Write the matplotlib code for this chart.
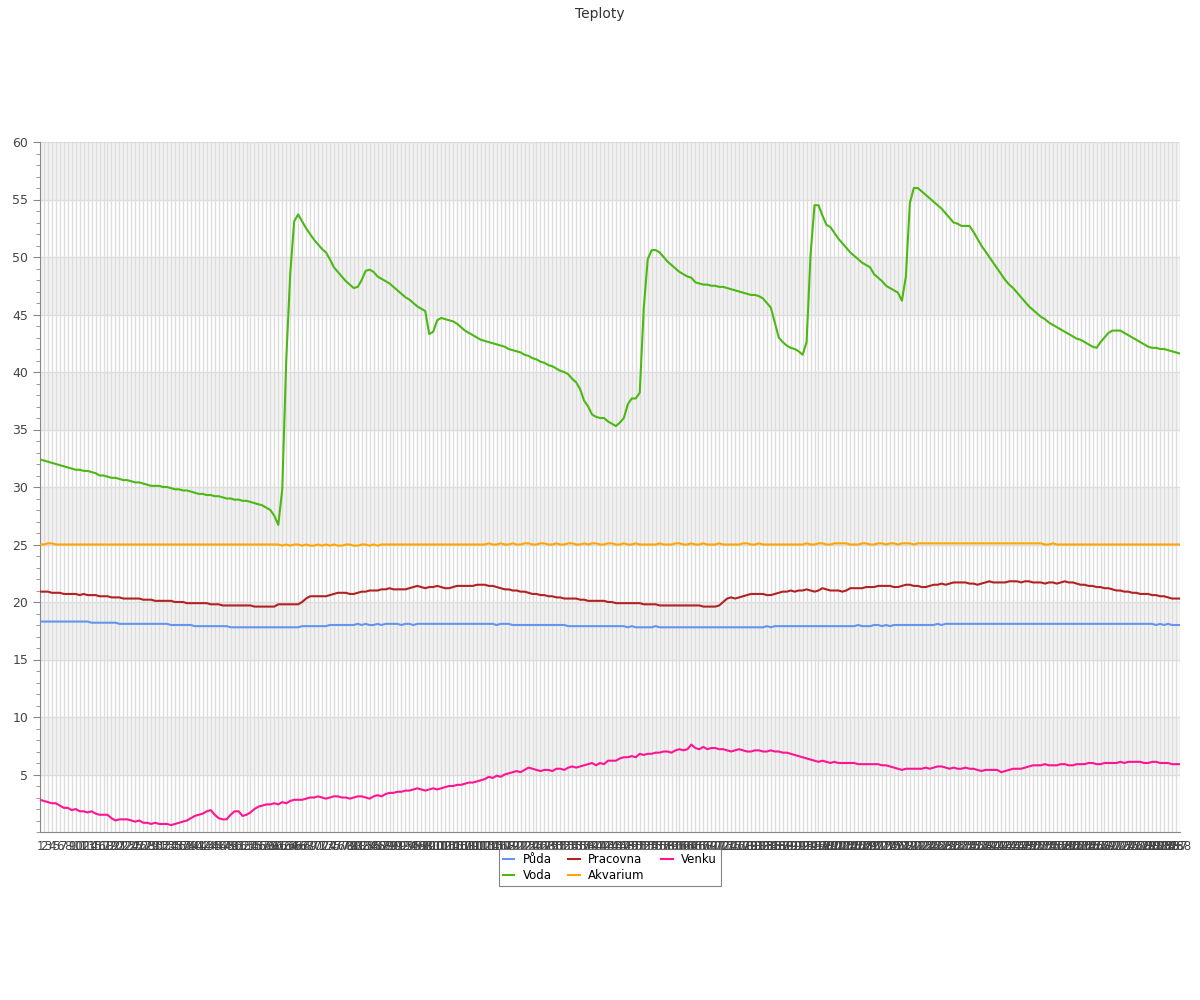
import numpy as np
import matplotlib
matplotlib.use('Agg')
import matplotlib.pyplot as plt
from matplotlib.ticker import MultipleLocator

# casove body (5 min), 1..288
labels = [str(i) for i in range(1, 289)]

puda = [
18.3, 18.3, 18.3, 18.3, 18.3, 18.3, 18.3, 18.3, 18.3, 18.3,
18.3, 18.3, 18.3, 18.2, 18.2, 18.2, 18.2, 18.2, 18.2, 18.2,
18.1, 18.1, 18.1, 18.1, 18.1, 18.1, 18.1, 18.1, 18.1, 18.1,
18.1, 18.1, 18.1, 18.0, 18.0, 18.0, 18.0, 18.0, 18.0, 17.9,
17.9, 17.9, 17.9, 17.9, 17.9, 17.9, 17.9, 17.9, 17.8, 17.8,
17.8, 17.8, 17.8, 17.8, 17.8, 17.8, 17.8, 17.8, 17.8, 17.8,
17.8, 17.8, 17.8, 17.8, 17.8, 17.8, 17.9, 17.9, 17.9, 17.9,
17.9, 17.9, 17.9, 18.0, 18.0, 18.0, 18.0, 18.0, 18.0, 18.0,
18.1, 18.0, 18.1, 18.0, 18.0, 18.1, 18.0, 18.1, 18.1, 18.1,
18.1, 18.0, 18.1, 18.1, 18.0, 18.1, 18.1, 18.1, 18.1, 18.1,
18.1, 18.1, 18.1, 18.1, 18.1, 18.1, 18.1, 18.1, 18.1, 18.1,
18.1, 18.1, 18.1, 18.1, 18.1, 18.0, 18.1, 18.1, 18.1, 18.0,
18.0, 18.0, 18.0, 18.0, 18.0, 18.0, 18.0, 18.0, 18.0, 18.0,
18.0, 18.0, 18.0, 17.9, 17.9, 17.9, 17.9, 17.9, 17.9, 17.9,
17.9, 17.9, 17.9, 17.9, 17.9, 17.9, 17.9, 17.9, 17.8, 17.9,
17.8, 17.8, 17.8, 17.8, 17.8, 17.9, 17.8, 17.8, 17.8, 17.8,
17.8, 17.8, 17.8, 17.8, 17.8, 17.8, 17.8, 17.8, 17.8, 17.8,
17.8, 17.8, 17.8, 17.8, 17.8, 17.8, 17.8, 17.8, 17.8, 17.8,
17.8, 17.8, 17.8, 17.9, 17.8, 17.9, 17.9, 17.9, 17.9, 17.9,
17.9, 17.9, 17.9, 17.9, 17.9, 17.9, 17.9, 17.9, 17.9, 17.9,
17.9, 17.9, 17.9, 17.9, 17.9, 17.9, 18.0, 17.9, 17.9, 17.9,
18.0, 18.0, 17.9, 18.0, 17.9, 18.0, 18.0, 18.0, 18.0, 18.0,
18.0, 18.0, 18.0, 18.0, 18.0, 18.0, 18.1, 18.0, 18.1, 18.1,
18.1, 18.1, 18.1, 18.1, 18.1, 18.1, 18.1, 18.1, 18.1, 18.1,
18.1, 18.1, 18.1, 18.1, 18.1, 18.1, 18.1, 18.1, 18.1, 18.1,
18.1, 18.1, 18.1, 18.1, 18.1, 18.1, 18.1, 18.1, 18.1, 18.1,
18.1, 18.1, 18.1, 18.1, 18.1, 18.1, 18.1, 18.1, 18.1, 18.1,
18.1, 18.1, 18.1, 18.1, 18.1, 18.1, 18.1, 18.1, 18.1, 18.1,
18.1, 18.0, 18.1, 18.0, 18.1, 18.0, 18.0, 18.0]

voda = [
32.4, 32.3, 32.2, 32.1, 32.0, 31.9, 31.8, 31.7, 31.6, 31.5,
31.5, 31.4, 31.4, 31.3, 31.2, 31.0, 31.0, 30.9, 30.8, 30.8,
30.7, 30.6, 30.6, 30.5, 30.4, 30.4, 30.3, 30.2, 30.1, 30.1,
30.1, 30.0, 30.0, 29.9, 29.8, 29.8, 29.7, 29.7, 29.6, 29.5,
29.4, 29.4, 29.3, 29.3, 29.2, 29.2, 29.1, 29.0, 29.0, 28.9,
28.9, 28.8, 28.8, 28.7, 28.6, 28.5, 28.4, 28.2, 28.0, 27.5,
26.7, 29.8, 41.0, 48.5, 53.1, 53.7, 53.1, 52.5, 52.0, 51.5,
51.1, 50.7, 50.4, 49.8, 49.1, 48.7, 48.3, 47.9, 47.6, 47.3,
47.4, 48.0, 48.8, 48.9, 48.7, 48.3, 48.1, 47.9, 47.7, 47.4,
47.1, 46.8, 46.5, 46.3, 46.0, 45.7, 45.5, 45.3, 43.3, 43.5,
44.5, 44.7, 44.6, 44.5, 44.4, 44.2, 43.9, 43.6, 43.4, 43.2,
43.0, 42.8, 42.7, 42.6, 42.5, 42.4, 42.3, 42.2, 42.0, 41.9,
41.8, 41.7, 41.5, 41.4, 41.2, 41.1, 40.9, 40.8, 40.6, 40.5,
40.3, 40.1, 40.0, 39.8, 39.4, 39.1, 38.5, 37.5, 37.0, 36.3,
36.1, 36.0, 36.0, 35.7, 35.5, 35.3, 35.6, 36.0, 37.2, 37.7,
37.7, 38.2, 45.5, 49.8, 50.6, 50.6, 50.4, 50.0, 49.6, 49.3,
49.0, 48.7, 48.5, 48.3, 48.2, 47.8, 47.7, 47.6, 47.6, 47.5,
47.5, 47.4, 47.4, 47.3, 47.2, 47.1, 47.0, 46.9, 46.8, 46.7,
46.7, 46.6, 46.4, 46.0, 45.6, 44.3, 43.0, 42.6, 42.3, 42.1,
42.0, 41.8, 41.5, 42.6, 50.2, 54.5, 54.5, 53.6, 52.8, 52.6,
52.1, 51.6, 51.2, 50.8, 50.4, 50.1, 49.8, 49.5, 49.3, 49.1,
48.5, 48.2, 47.9, 47.5, 47.3, 47.1, 46.9, 46.2, 48.3, 54.7,
56.0, 56.0, 55.7, 55.4, 55.1, 54.8, 54.5, 54.2, 53.8, 53.4,
53.0, 52.9, 52.7, 52.7, 52.7, 52.2, 51.6, 51.0, 50.5, 50.0,
49.5, 49.0, 48.5, 48.0, 47.6, 47.3, 46.9, 46.5, 46.1, 45.7,
45.4, 45.1, 44.8, 44.6, 44.3, 44.1, 43.9, 43.7, 43.5, 43.3,
43.1, 42.9, 42.8, 42.6, 42.4, 42.2, 42.1, 42.6, 43.0, 43.4,
43.6, 43.6, 43.6, 43.4, 43.2, 43.0, 42.8, 42.6, 42.4, 42.2,
42.1, 42.1, 42.0, 42.0, 41.9, 41.8, 41.7, 41.6]

pracovna = [
20.9, 20.9, 20.9, 20.8, 20.8, 20.8, 20.7, 20.7, 20.7, 20.7,
20.6, 20.7, 20.6, 20.6, 20.6, 20.5, 20.5, 20.5, 20.4, 20.4,
20.4, 20.3, 20.3, 20.3, 20.3, 20.3, 20.2, 20.2, 20.2, 20.1,
20.1, 20.1, 20.1, 20.1, 20.0, 20.0, 20.0, 19.9, 19.9, 19.9,
19.9, 19.9, 19.9, 19.8, 19.8, 19.8, 19.7, 19.7, 19.7, 19.7,
19.7, 19.7, 19.7, 19.7, 19.6, 19.6, 19.6, 19.6, 19.6, 19.6,
19.8, 19.8, 19.8, 19.8, 19.8, 19.8, 20.0, 20.3, 20.5, 20.5,
20.5, 20.5, 20.5, 20.6, 20.7, 20.8, 20.8, 20.8, 20.7, 20.7,
20.8, 20.9, 20.9, 21.0, 21.0, 21.0, 21.1, 21.1, 21.2, 21.1,
21.1, 21.1, 21.1, 21.2, 21.3, 21.4, 21.3, 21.2, 21.3, 21.3,
21.4, 21.3, 21.2, 21.2, 21.3, 21.4, 21.4, 21.4, 21.4, 21.4,
21.5, 21.5, 21.5, 21.4, 21.4, 21.3, 21.2, 21.1, 21.1, 21.0,
21.0, 20.9, 20.9, 20.8, 20.7, 20.7, 20.6, 20.6, 20.5, 20.5,
20.4, 20.4, 20.3, 20.3, 20.3, 20.3, 20.2, 20.2, 20.1, 20.1,
20.1, 20.1, 20.1, 20.0, 20.0, 19.9, 19.9, 19.9, 19.9, 19.9,
19.9, 19.9, 19.8, 19.8, 19.8, 19.8, 19.7, 19.7, 19.7, 19.7,
19.7, 19.7, 19.7, 19.7, 19.7, 19.7, 19.7, 19.6, 19.6, 19.6,
19.6, 19.7, 20.0, 20.3, 20.4, 20.3, 20.4, 20.5, 20.6, 20.7,
20.7, 20.7, 20.7, 20.6, 20.6, 20.7, 20.8, 20.9, 20.9, 21.0,
20.9, 21.0, 21.0, 21.1, 21.0, 20.9, 21.0, 21.2, 21.1, 21.0,
21.0, 21.0, 20.9, 21.0, 21.2, 21.2, 21.2, 21.2, 21.3, 21.3,
21.3, 21.4, 21.4, 21.4, 21.4, 21.3, 21.3, 21.4, 21.5, 21.5,
21.4, 21.4, 21.3, 21.3, 21.4, 21.5, 21.5, 21.6, 21.5, 21.6,
21.7, 21.7, 21.7, 21.7, 21.6, 21.6, 21.5, 21.6, 21.7, 21.8,
21.7, 21.7, 21.7, 21.7, 21.8, 21.8, 21.8, 21.7, 21.8, 21.8,
21.7, 21.7, 21.7, 21.6, 21.7, 21.7, 21.6, 21.7, 21.8, 21.7,
21.7, 21.6, 21.5, 21.5, 21.4, 21.4, 21.3, 21.3, 21.2, 21.2,
21.1, 21.0, 21.0, 20.9, 20.9, 20.8, 20.8, 20.7, 20.7, 20.7,
20.6, 20.6, 20.5, 20.5, 20.4, 20.3, 20.3, 20.3]

akvarium = [
25.0, 25.0, 25.1, 25.1, 25.0, 25.0, 25.0, 25.0, 25.0, 25.0,
25.0, 25.0, 25.0, 25.0, 25.0, 25.0, 25.0, 25.0, 25.0, 25.0,
25.0, 25.0, 25.0, 25.0, 25.0, 25.0, 25.0, 25.0, 25.0, 25.0,
25.0, 25.0, 25.0, 25.0, 25.0, 25.0, 25.0, 25.0, 25.0, 25.0,
25.0, 25.0, 25.0, 25.0, 25.0, 25.0, 25.0, 25.0, 25.0, 25.0,
25.0, 25.0, 25.0, 25.0, 25.0, 25.0, 25.0, 25.0, 25.0, 25.0,
25.0, 24.9, 25.0, 24.9, 25.0, 25.0, 24.9, 25.0, 24.9, 24.9,
25.0, 24.9, 25.0, 24.9, 25.0, 24.9, 24.9, 25.0, 25.0, 24.9,
24.9, 25.0, 25.0, 24.9, 25.0, 24.9, 25.0, 25.0, 25.0, 25.0,
25.0, 25.0, 25.0, 25.0, 25.0, 25.0, 25.0, 25.0, 25.0, 25.0,
25.0, 25.0, 25.0, 25.0, 25.0, 25.0, 25.0, 25.0, 25.0, 25.0,
25.0, 25.0, 25.0, 25.1, 25.0, 25.0, 25.1, 25.0, 25.0, 25.1,
25.0, 25.0, 25.1, 25.1, 25.0, 25.0, 25.1, 25.1, 25.0, 25.0,
25.1, 25.0, 25.0, 25.1, 25.1, 25.0, 25.0, 25.1, 25.0, 25.1,
25.1, 25.0, 25.0, 25.1, 25.1, 25.0, 25.0, 25.1, 25.0, 25.0,
25.1, 25.0, 25.0, 25.0, 25.0, 25.0, 25.1, 25.0, 25.0, 25.0,
25.1, 25.1, 25.0, 25.0, 25.1, 25.0, 25.0, 25.1, 25.0, 25.0,
25.0, 25.1, 25.0, 25.0, 25.0, 25.0, 25.0, 25.1, 25.1, 25.0,
25.0, 25.1, 25.0, 25.0, 25.0, 25.0, 25.0, 25.0, 25.0, 25.0,
25.0, 25.0, 25.0, 25.1, 25.0, 25.0, 25.1, 25.1, 25.0, 25.0,
25.1, 25.1, 25.1, 25.1, 25.0, 25.0, 25.0, 25.1, 25.1, 25.0,
25.0, 25.1, 25.1, 25.0, 25.1, 25.1, 25.0, 25.1, 25.1, 25.1,
25.0, 25.1, 25.1, 25.1, 25.1, 25.1, 25.1, 25.1, 25.1, 25.1,
25.1, 25.1, 25.1, 25.1, 25.1, 25.1, 25.1, 25.1, 25.1, 25.1,
25.1, 25.1, 25.1, 25.1, 25.1, 25.1, 25.1, 25.1, 25.1, 25.1,
25.1, 25.1, 25.1, 25.0, 25.0, 25.1, 25.0, 25.0, 25.0, 25.0,
25.0, 25.0, 25.0, 25.0, 25.0, 25.0, 25.0, 25.0, 25.0, 25.0,
25.0, 25.0, 25.0, 25.0, 25.0, 25.0, 25.0, 25.0, 25.0, 25.0,
25.0, 25.0, 25.0, 25.0, 25.0, 25.0, 25.0, 25.0]

venku = [
2.8, 2.7, 2.6, 2.5, 2.5, 2.3, 2.1, 2.1, 1.9, 2.0,
1.8, 1.8, 1.7, 1.8, 1.6, 1.5, 1.5, 1.5, 1.2, 1.0,
1.1, 1.1, 1.1, 1.0, 0.9, 1.0, 0.8, 0.8, 0.7, 0.8,
0.7, 0.7, 0.7, 0.6, 0.7, 0.8, 0.9, 1.0, 1.2, 1.4,
1.5, 1.6, 1.8, 1.9, 1.5, 1.2, 1.1, 1.1, 1.5, 1.8,
1.8, 1.4, 1.5, 1.7, 2.0, 2.2, 2.3, 2.4, 2.4, 2.5,
2.4, 2.6, 2.5, 2.7, 2.8, 2.8, 2.8, 2.9, 3.0, 3.0,
3.1, 3.0, 2.9, 3.0, 3.1, 3.1, 3.0, 3.0, 2.9, 3.0,
3.1, 3.1, 3.0, 2.9, 3.1, 3.2, 3.1, 3.3, 3.4, 3.4,
3.5, 3.5, 3.6, 3.6, 3.7, 3.8, 3.7, 3.6, 3.7, 3.8,
3.7, 3.8, 3.9, 4.0, 4.0, 4.1, 4.1, 4.2, 4.3, 4.3,
4.4, 4.5, 4.6, 4.8, 4.7, 4.9, 4.8, 5.0, 5.1, 5.2,
5.3, 5.2, 5.4, 5.6, 5.5, 5.4, 5.3, 5.4, 5.4, 5.3,
5.5, 5.5, 5.4, 5.6, 5.7, 5.6, 5.7, 5.8, 5.9, 6.0,
5.8, 6.0, 5.9, 6.2, 6.2, 6.2, 6.4, 6.5, 6.5, 6.6,
6.5, 6.8, 6.7, 6.8, 6.8, 6.9, 6.9, 7.0, 7.0, 6.9,
7.1, 7.2, 7.1, 7.2, 7.6, 7.3, 7.2, 7.4, 7.2, 7.3,
7.3, 7.2, 7.2, 7.1, 7.0, 7.1, 7.2, 7.1, 7.0, 7.0,
7.1, 7.1, 7.0, 7.0, 7.1, 7.0, 7.0, 6.9, 6.9, 6.8,
6.7, 6.6, 6.5, 6.4, 6.3, 6.2, 6.1, 6.2, 6.1, 6.0,
6.1, 6.0, 6.0, 6.0, 6.0, 6.0, 5.9, 5.9, 5.9, 5.9,
5.9, 5.9, 5.8, 5.8, 5.7, 5.6, 5.5, 5.4, 5.5, 5.5,
5.5, 5.5, 5.5, 5.6, 5.5, 5.6, 5.7, 5.7, 5.6, 5.5,
5.6, 5.5, 5.5, 5.6, 5.5, 5.5, 5.4, 5.3, 5.4, 5.4,
5.4, 5.4, 5.2, 5.3, 5.4, 5.5, 5.5, 5.5, 5.6, 5.7,
5.8, 5.8, 5.8, 5.9, 5.8, 5.8, 5.8, 5.9, 5.9, 5.8,
5.8, 5.9, 5.9, 5.9, 6.0, 6.0, 5.9, 5.9, 6.0, 6.0,
6.0, 6.0, 6.1, 6.0, 6.1, 6.1, 6.1, 6.1, 6.0, 6.0,
6.1, 6.1, 6.0, 6.0, 6.0, 5.9, 5.9, 5.9]

names = ['Půda', 'Voda', 'Pracovna', 'Akvarium', 'Venku']
colors = ['#6495ED', '#4CB814', '#B22222', '#FFA500', '#FF1493']
series = [puda, voda, pracovna, akvarium, venku]

x = np.arange(len(labels))

fig = plt.figure(figsize=(12, 10), dpi=100)
ax = fig.add_axes([0.0333, 0.168, 0.95, 0.690])

# sede pruhy
for lo in range(5, 60, 10):
    ax.axhspan(lo, lo + 5, color='#f3f3f3', zorder=0, lw=0)

for s, n, c in zip(series, names, colors):
    ax.plot(x, s, color=c, lw=1.5, label=n, zorder=3)

ax.set_xlim(0, len(labels) - 1)
ax.set_ylim(0, 60)
ax.set_xticks(x)
ax.set_xticklabels(labels, fontsize=8.5, color='#444444')
ax.set_yticks(range(5, 61, 5))
ax.yaxis.set_minor_locator(MultipleLocator(1))
ax.tick_params(axis='y', labelsize=9, labelcolor='#444444', color='#888888', length=5)
ax.tick_params(axis='y', which='minor', color='#888888', length=3)
ax.tick_params(axis='x', length=0, pad=6)

ax.grid(axis='x', color='#dddddd', lw=1, zorder=1)
ax.grid(axis='y', color='#dddddd', lw=1, zorder=1)
ax.set_axisbelow(True)

for sp in ['top', 'right']:
    ax.spines[sp].set_visible(False)
for sp in ['left', 'bottom']:
    ax.spines[sp].set_color('#888888')

fig.suptitle('Teploty', y=0.993, fontsize=10, color='#333333')

leg = ax.legend(loc='upper center', bbox_to_anchor=(0.5, -0.0246), ncol=3,
                fontsize=8.5, frameon=True, fancybox=False, edgecolor='#666666',
                handlelength=1.0, handletextpad=0.7, columnspacing=1.4,
                borderpad=0.35, labelspacing=0.25, borderaxespad=0)
leg.get_frame().set_linewidth(0.8)

plt.savefig('out.png', dpi=100)
